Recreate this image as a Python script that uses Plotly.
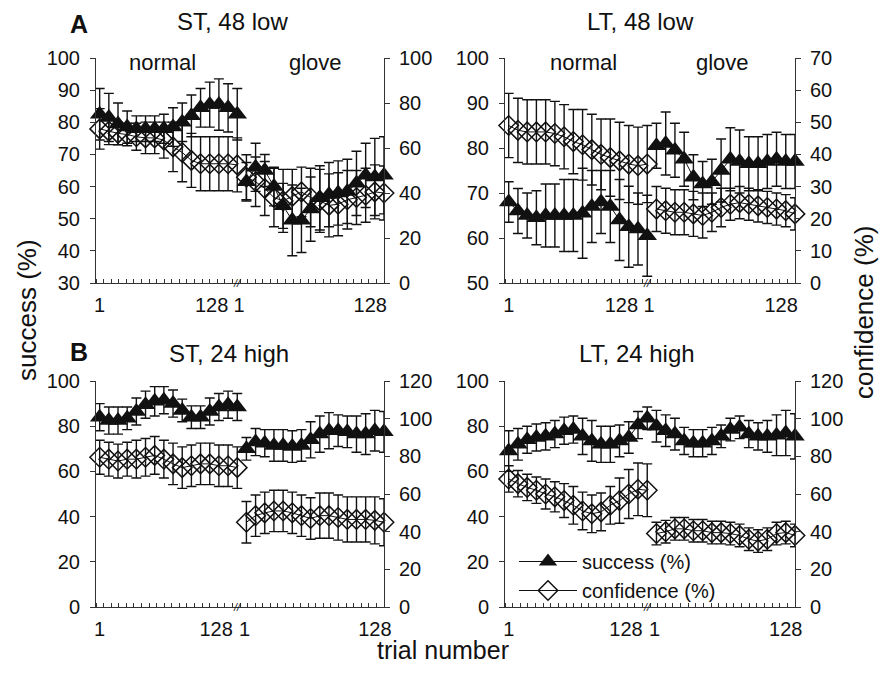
import plotly.graph_objects as go
import numpy as np

# ---------------- data (16 bins of 8 trials per condition) ----------------
trial_bins = list(range(1, 33))          # 1..16 normal, 17..32 glove
x_tick_text = ["1", "128", "1", "128"]
x_tick_pos_A = [1, 13.2, 16.2, 30.5]
x_tick_pos_B = [1, 13.7, 16.8, 31.0]

# A: ST, 48 low
st48_succ_normal = [82.5, 81.5, 79.5, 78.5, 78, 78, 78, 78, 78.5, 80, 82, 84.5, 85.5, 85.5, 84.5, 82.5]
st48_succ_normal_err = [8, 7.5, 6.5, 5, 4, 4, 4, 4.5, 6, 6, 6.5, 6, 7, 8, 7.5, 8]
st48_succ_glove = [61.5, 66, 65, 60, 54, 49.5, 49.5, 53, 56.5, 57.5, 58, 58.5, 61, 63.5, 63, 63.5]
st48_succ_glove_err = [6, 7.5, 5, 6, 7, 11, 10, 10, 10, 10, 10, 10, 10, 10, 12, 12]
st48_conf_normal = [68.5, 67.5, 66.5, 66, 65, 64.5, 64.5, 63.5, 60.5, 58, 54.5, 53, 53, 53, 53, 52.5]
st48_conf_normal_err = [9, 6, 5, 5, 6, 7, 7, 8, 11, 13, 12, 12, 12, 12, 12, 12]
st48_conf_glove = [47, 45, 42, 38, 36.5, 38.5, 40.5, 38, 36.5, 34.5, 35, 37, 38, 39, 40.5, 40]
st48_conf_glove_err = [10, 11, 12, 13, 14, 12, 11, 13, 14, 14, 14, 13, 12, 12, 12, 12]

# A: LT, 48 low
lt48_succ_normal = [68, 66, 65, 64.5, 65, 65, 65, 65, 65.5, 67, 68, 67, 64, 62.5, 62, 60.5]
lt48_succ_normal_err = [4.5, 5, 5, 6, 7, 7, 8, 8, 10, 8, 7, 8, 9, 9, 8, 9]
lt48_succ_glove = [80.5, 81, 79.5, 77.5, 73.5, 72, 72.5, 75, 77.5, 77, 76.5, 76.5, 77, 77.5, 77, 77]
lt48_succ_glove_err = [5, 7, 6, 6, 5, 5, 5, 7, 7, 7, 6, 6, 6, 6, 6, 6]
lt48_conf_normal = [49, 47.5, 47, 47, 47, 46.5, 45.5, 44, 43, 41.5, 40, 39, 38, 37, 36.5, 37]
lt48_conf_normal_err = [10, 10, 10, 10, 10, 10, 10, 10, 11, 11, 11, 12, 12, 12, 12, 12]
lt48_conf_glove = [23, 22.5, 22, 22, 21.5, 21, 22, 23.5, 24.5, 25, 24.5, 24, 23.5, 23, 22.5, 21.5]
lt48_conf_glove_err = [7, 7, 7, 7, 7, 7, 6, 6, 5, 5, 5, 5, 5, 5, 5, 5]

# B: ST, 24 high
st24_succ_normal = [84, 82.5, 82.5, 83.5, 86.5, 89.5, 91, 91.5, 90, 87, 84, 84, 86.5, 88.5, 89.5, 88.5]
st24_succ_normal_err = [6, 6, 6, 5, 6, 6, 6.5, 6, 6, 5, 5, 5, 6, 6, 6, 6]
st24_succ_glove = [70, 73, 72.5, 71.5, 71.5, 71, 71.5, 74, 76.5, 78, 78, 77.5, 76.5, 76.5, 78, 77.5]
st24_succ_glove_err = [5, 6, 6, 7, 7, 7, 7, 8, 8, 8, 7, 7, 8, 9, 9, 9]
st24_conf_normal = [79.5, 78.5, 77.5, 78.5, 78.5, 79.5, 80.5, 78.5, 76, 74, 75, 76, 76, 75, 75, 74]
st24_conf_normal_err = [9, 9, 9, 9, 10, 10, 10, 10, 11, 11, 11, 11, 11, 11, 11, 11]
st24_conf_glove = [45, 48.5, 50, 51, 51, 50, 48.5, 47, 48.5, 48.5, 47.5, 46.5, 46.5, 46.5, 46, 45]
st24_conf_glove_err = [11, 11, 11, 11, 11, 11, 11, 11, 12, 12, 12, 12, 12, 12, 12.5, 12.5]

# B: LT, 24 high
lt24_succ_normal = [69, 72, 74, 75, 75.5, 76.5, 78, 78.5, 75.5, 73.5, 72, 72, 73.5, 75, 80.5, 83.5]
lt24_succ_normal_err = [9, 7, 6, 6, 6, 6, 6, 6, 8, 9, 8, 8, 7, 7, 6, 5]
lt24_succ_glove = [80, 78, 76.5, 73.5, 72.5, 72.5, 73.5, 75.5, 78.5, 79.5, 76.5, 75.5, 75.5, 76, 77, 75.5]
lt24_succ_glove_err = [7, 7, 7, 6, 6, 6, 6, 5, 5, 5, 6, 6, 7, 9, 10, 10]
lt24_conf_normal = [68, 65.5, 63.5, 62, 60, 58.5, 56.5, 54, 51, 49.5, 50.5, 54, 56.5, 60, 62.5, 62]
lt24_conf_normal_err = [7, 7, 7, 7, 8, 8, 9, 10, 10, 10, 10, 10, 12, 13, 14, 14]
lt24_conf_glove = [39, 40, 41.5, 41.5, 40.5, 40.5, 39.5, 39.5, 39, 38, 36, 35, 36, 39, 39.5, 38]
lt24_conf_glove_err = [6, 6, 6, 6, 6, 6, 6, 6, 6, 6, 6, 6, 6, 6, 6, 6]

panel_titles = ["ST, 48 low", "LT, 48 low", "ST, 24 high", "LT, 24 high"]
left_ranges = [(30, 100, 10), (50, 100, 10), (0, 100, 20), (0, 100, 20)]
right_ranges = [(0, 100, 20), (0, 70, 10), (0, 120, 20), (0, 120, 20)]

panels = [
    (st48_succ_normal, st48_succ_normal_err, st48_succ_glove, st48_succ_glove_err,
     st48_conf_normal, st48_conf_normal_err, st48_conf_glove, st48_conf_glove_err),
    (lt48_succ_normal, lt48_succ_normal_err, lt48_succ_glove, lt48_succ_glove_err,
     lt48_conf_normal, lt48_conf_normal_err, lt48_conf_glove, lt48_conf_glove_err),
    (st24_succ_normal, st24_succ_normal_err, st24_succ_glove, st24_succ_glove_err,
     st24_conf_normal, st24_conf_normal_err, st24_conf_glove, st24_conf_glove_err),
    (lt24_succ_normal, lt24_succ_normal_err, lt24_succ_glove, lt24_succ_glove_err,
     lt24_conf_normal, lt24_conf_normal_err, lt24_conf_glove, lt24_conf_glove_err),
]

# ---------------- layout geometry ----------------
W, H = 888, 673
ML, MR, MT, MB = 96, 93, 58, 66
PW, PH = W - ML - MR, H - MT - MB


def px(x):
    return (x - ML) / PW


def py(y):
    return (MT + PH - y) / PH


FONT = "Liberation Sans, Arial, sans-serif"
INK = "#111111"
AX = "#333333"

xdom = [[px(96), px(384)], [px(505), px(795)], [px(96), px(384)], [px(505), px(795)]]
ydom = [[py(283), py(58)], [py(283), py(58)], [py(607), py(381)], [py(607), py(381)]]

fig = go.Figure()

normal_bins = trial_bins[:16]
glove_bins = trial_bins[16:]


def add_series(k, xs, ys, errs, kind, show):
    sfx = "" if k == 1 else str(k)
    if kind == "succ":
        marker = dict(symbol="triangle-up", size=17, color=INK, line=dict(width=0))
        yax = "y" + sfx
        name = "success (%)"
    else:
        marker = dict(symbol="diamond-open", size=15, color=INK, line=dict(width=1.5, color=INK))
        yax = "y" + str(k + 4)
        name = "confidence (%)"
    fig.add_trace(go.Scatter(
        x=xs, y=ys, mode="lines+markers", name=name, showlegend=show,
        legendgroup=kind,
        line=dict(color=INK, width=1), marker=marker,
        error_y=dict(type="data", array=errs, visible=True, color=INK, thickness=1.4, width=5),
        xaxis="x" + sfx, yaxis=yax, cliponaxis=False,
    ))


for k, p in enumerate(panels, start=1):
    (sn, sne, sg, sge, cn, cne, cg, cge) = p
    first = (k == 1)
    add_series(k, normal_bins, sn, sne, "succ", first)
    add_series(k, glove_bins, sg, sge, "succ", False)
    add_series(k, normal_bins, cn, cne, "conf", first)
    add_series(k, glove_bins, cg, cge, "conf", False)

layout = dict(
    width=W, height=H,
    margin=dict(l=ML, r=MR, t=MT, b=MB),
    paper_bgcolor="white", plot_bgcolor="white",
    font=dict(family=FONT, color=INK, size=20),
    showlegend=True,
    legend=dict(x=px(514), y=py(542), xanchor="left", yanchor="top",
                bgcolor="rgba(0,0,0,0)", font=dict(size=20, family=FONT),
                itemwidth=58, tracegroupgap=0),
)

minor_vals = list(np.linspace(0.6, 32, 39))
for k in range(1, 5):
    sfx = "" if k == 1 else str(k)
    tickpos = x_tick_pos_A if k <= 2 else x_tick_pos_B
    layout["xaxis" + sfx] = dict(
        domain=xdom[k - 1], anchor="y" + sfx, range=[0.6, 32],
        showline=True, linecolor=AX, linewidth=1, showgrid=False, zeroline=False,
        tickmode="array", tickvals=tickpos, ticktext=x_tick_text, ticks="",
        tickangle=0, tickfont=dict(size=20), ticklabelstandoff=4,
        minor=dict(tickmode="array", tickvals=minor_vals, ticks="inside", ticklen=4,
                   tickcolor=AX, tickwidth=1),
    )
    lo, hi, dt = left_ranges[k - 1]
    layout["yaxis" + sfx] = dict(
        domain=ydom[k - 1], anchor="x" + sfx, range=[lo, hi], dtick=dt, tick0=0,
        showline=True, linecolor=AX, linewidth=1, showgrid=False, zeroline=False,
        ticks="outside", ticklen=5, tickcolor=AX, tickfont=dict(size=20),
        ticklabelstandoff=6,
    )
    rlo, rhi, rdt = right_ranges[k - 1]
    layout["yaxis" + str(k + 4)] = dict(
        overlaying="y" + sfx, side="right", anchor="x" + sfx, range=[rlo, rhi],
        dtick=rdt, tick0=0, showline=True, linecolor=AX, linewidth=1,
        showgrid=False, zeroline=False, ticks="outside", ticklen=5, tickcolor=AX,
        tickfont=dict(size=20), ticklabelstandoff=5,
    )
    layout["yaxis" + str(k + 8)] = dict(
        overlaying="y" + sfx, side="right", anchor="x" + sfx, range=[rlo, rhi],
        dtick=rdt, tick0=0, showline=False, showgrid=False, zeroline=False,
        ticks="inside", ticklen=5, tickcolor=AX, showticklabels=False,
    )

fig.update_layout(**layout)

ann = []


def txt(x, y, s, size, bold=False, angle=0):
    ann.append(dict(x=px(x), y=py(y), xref="paper", yref="paper", text=("<b>%s</b>" % s) if bold else s,
                    showarrow=False, xanchor="center", yanchor="middle", textangle=angle,
                    font=dict(size=size, family=FONT, color=INK)))


txt(79, 24, "A", 25, bold=True)
txt(79, 352, "B", 25, bold=True)
txt(232, 22, panel_titles[0], 24)
txt(640, 22, panel_titles[1], 24)
txt(229, 353, panel_titles[2], 24)
txt(637, 353, panel_titles[3], 24)
txt(162, 62, "normal", 22)
txt(315, 62, "glove", 22)
txt(583, 62, "normal", 22)
txt(722, 62, "glove", 22)
txt(27, 310, "success (%)", 26, angle=-90)
txt(864, 313, "confidence (%)", 26, angle=-90)
txt(443, 650, "trial number", 25)

for k in range(1, 5):
    sfx = "" if k == 1 else str(k)
    ann.append(dict(x=16.0, y=0, xref="x" + sfx, yref="y" + sfx + " domain", text="<i>//</i>",
                    showarrow=False, xanchor="center", yanchor="middle",
                    font=dict(size=11, family=FONT, color=INK)))

fig.update_layout(annotations=ann)
fig.write_html("out.html", config={"displayModeBar": False},
               post_script="document.body.style.margin='0';")
